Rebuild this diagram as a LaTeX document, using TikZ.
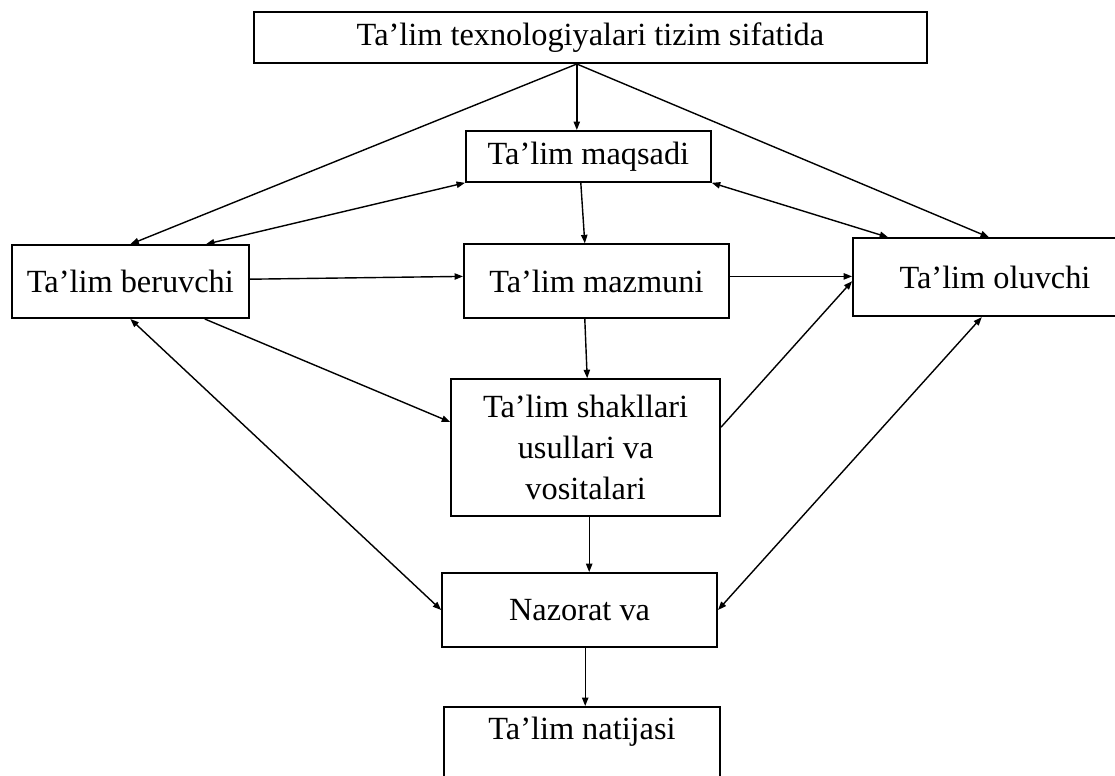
\documentclass[tikz,border=0pt]{standalone}
\usepackage{fontspec}
\setmainfont{Liberation Serif}
\usetikzlibrary{arrows.meta}

\begin{document}
\begin{tikzpicture}[
    blok/.style={draw, line width=1.3pt, inner sep=0pt, align=center},
    yozuv/.style={font=\fontsize{23}{29}\selectfont},
    strelka/.style={line width=1pt, -{Triangle[length=6pt,width=4.5pt]}},
    ikki/.style={line width=1pt, {Triangle[length=6pt,width=4.5pt]}-{Triangle[length=6pt,width=4.5pt]}},
    every node/.append style={yozuv}
  ]
  \clip (0,0) rectangle (27.875,-19.4);

  \node[blok, minimum width=16.825cm, minimum height=1.275cm] (tizim) at (14.76,-0.94) {Ta’lim texnologiyalari tizim sifatida};
  \node[blok, minimum width=6.125cm, minimum height=1.275cm] (maqsad) at (14.71,-3.91) {Ta’lim maqsadi};
  \node[blok, minimum width=5.925cm, minimum height=1.825cm] (beruvchi) at (3.26,-7.04) {Ta’lim beruvchi};
  \node[blok, minimum width=6.625cm, minimum height=1.85cm] (mazmun) at (14.91,-7.03) {Ta’lim mazmuni};
  \node[blok, minimum width=7.1cm, minimum height=1.95cm] (oluvchi) at (24.875,-6.93) {Ta’lim oluvchi};
  \node[blok, minimum width=6.725cm, minimum height=3.425cm] (shakl) at (14.64,-11.19) {Ta’lim shakllari\\usullari va\\vositalari};
  \node[blok, minimum width=6.875cm, minimum height=1.85cm] (nazorat) at (14.49,-15.25) {Nazorat va};
  \node[blok, minimum width=6.9cm, minimum height=3cm, anchor=north] (natija) at (14.55,-17.65) {};
  \node at ([yshift=-0.65cm]natija.north) {Ta’lim natijasi};

  \coordinate (uch) at ([xshift=-0.34cm]tizim.south);
  \draw[strelka] (uch) -- (uch |- maqsad.north);
  \draw[strelka] (uch) -- (beruvchi.north);
  \draw[strelka] (uch) -- ([xshift=-0.15cm]oluvchi.north);

  \draw[ikki] ([xshift=1.89cm]beruvchi.north) -- (maqsad.south west);
  \draw[ikki] (maqsad.south east) -- ([xshift=0.9cm]oluvchi.north west);
  \draw[strelka] ([xshift=-0.19cm]maqsad.south) -- ([xshift=-0.29cm]mazmun.north);

  \draw[strelka] ([yshift=0.06cm]beruvchi.east) -- ([yshift=0.12cm]mazmun.west);
  \draw[strelka] ([yshift=0.12cm]mazmun.east) -- ([yshift=0.12cm]mazmun.east -| oluvchi.west);
  \draw[strelka] ([xshift=-0.29cm]mazmun.south) -- ([xshift=0.04cm]shakl.north);
  \draw[strelka] ([xshift=1.86cm]beruvchi.south) -- ([yshift=0.64cm]shakl.west);
  \draw[strelka] ([yshift=0.51cm]shakl.east) -- ([yshift=-0.1cm]oluvchi.west);

  \draw[ikki] (beruvchi.south) -- (nazorat.west);
  \draw[ikki] ([xshift=-0.33cm]oluvchi.south) -- (nazorat.east);
  \draw[strelka] ([xshift=0.09cm]shakl.south) -- ([xshift=0.09cm]shakl.south |- nazorat.north);
  \draw[strelka] ([xshift=0.14cm]nazorat.south) -- ([xshift=0.14cm]nazorat.south |- natija.north);
\end{tikzpicture}
\end{document}
